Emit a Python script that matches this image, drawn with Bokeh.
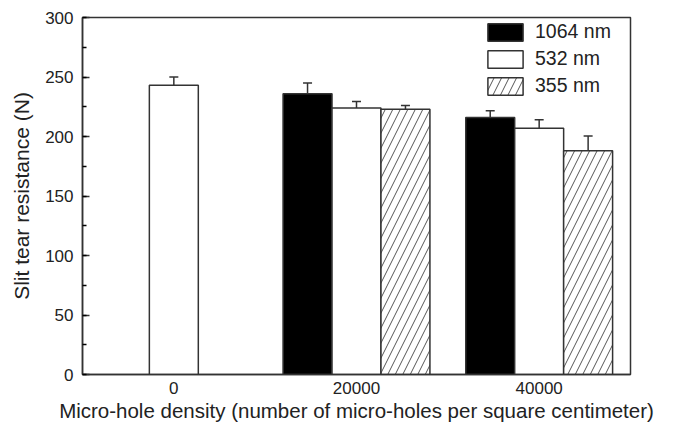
import math
from bokeh.plotting import figure
from bokeh.models import (ColumnDataSource, Whisker, TeeHead, FixedTicker,
                          SingleIntervalTicker, Legend, LegendItem, Range1d)
from bokeh.embed import file_html
from bokeh.resources import INLINE

# ---- data ----
densities = ["0", "20000", "40000"]
series_names = ["1064 nm", "532 nm", "355 nm"]
vals_1064 = [None, 236, 216]
errs_1064 = [None, 9, 5.6]
vals_532 = [243, 224, 207]
errs_532 = [7, 5.5, 7]
vals_355 = [None, 223, 188]
errs_355 = [None, 3, 12.5]
x_title = "Micro-hole density (number of micro-holes per square centimeter)"
y_title = "Slit tear resistance (N)"

FONT = "Liberation Sans"
TXT = "#222222"
EDGE = "#333333"
BW = 0.268

p = figure(width=673, height=426, output_backend="svg", toolbar_location=None,
           x_range=Range1d(-0.5, 2.5), y_range=Range1d(0, 300),
           min_border_left=82, min_border_right=43, min_border_top=17,
           min_border_bottom=52)
p.xgrid.visible = False
p.ygrid.visible = False
p.outline_line_color = EDGE
p.outline_line_width = 1.5
p.background_fill_color = "white"
p.border_fill_color = "white"

def make_source(vals, errs, offset):
    xs, tops, ups = [], [], []
    for i, (v, e) in enumerate(zip(vals, errs)):
        if v is None:
            continue
        xs.append(i + offset)
        tops.append(v)
        ups.append(v + e)
    return ColumnDataSource(dict(x=xs, top=tops, upper=ups))

styles = [
    dict(fill_color="black", hatch_pattern=None),
    dict(fill_color="white", hatch_pattern=None),
    dict(fill_color="white", hatch_pattern="/"),
]
all_vals = [vals_1064, vals_532, vals_355]
all_errs = [errs_1064, errs_532, errs_355]
offsets = [-BW, 0.0, BW]

items = []
for name, vals, errs, off, st in zip(series_names, all_vals, all_errs, offsets, styles):
    src = make_source(vals, errs, off)
    kw = dict(x="x", top="top", bottom=0, width=BW, source=src,
              fill_color=st["fill_color"], line_color=EDGE, line_width=1.5)
    if st["hatch_pattern"]:
        kw.update(hatch_pattern=st["hatch_pattern"], hatch_color="#555555",
                  hatch_scale=15, hatch_weight=1)
    r = p.vbar(**kw)
    w = Whisker(base="x", lower="top", upper="upper", source=src,
                line_color=EDGE, line_width=1.5,
                upper_head=TeeHead(size=9, line_color=EDGE, line_width=1.5),
                lower_head=None)
    p.add_layout(w)
    items.append(LegendItem(label=name, renderers=[r]))

legend = Legend(items=items, location=(401, 277), padding=0, margin=0,
                spacing=4, glyph_width=44, glyph_height=22, label_standoff=8,
                label_text_font=FONT, label_text_font_size="19.5px",
                label_text_color=TXT, border_line_color=None,
                background_fill_alpha=0)
p.add_layout(legend)

# x axis
p.xaxis.ticker = FixedTicker(ticks=[0, 1, 2])
p.xaxis.major_label_overrides = {i: d for i, d in enumerate(densities)}
p.xaxis.minor_tick_line_color = None
p.xaxis.axis_label = x_title

# y axis
p.yaxis.ticker = SingleIntervalTicker(interval=50, num_minor_ticks=2)
p.yaxis.axis_label = y_title

for ax in (p.xaxis[0], p.yaxis[0]):
    ax.axis_line_color = EDGE
    ax.axis_line_width = 1.5
    ax.major_tick_line_color = EDGE
    ax.major_tick_line_width = 1.5
    ax.minor_tick_line_width = 1.5
    ax.major_tick_in = 7
    ax.major_tick_out = 0
    ax.minor_tick_in = 4
    ax.minor_tick_out = 0
    ax.major_label_text_font = FONT
    ax.major_label_text_font_size = "17px"
    ax.major_label_text_color = TXT
    ax.axis_label_text_font = FONT
    ax.axis_label_text_font_style = "normal"
    ax.axis_label_text_color = TXT
p.xaxis.major_tick_line_color = None
p.xaxis.major_tick_in = 0
p.xaxis.major_label_standoff = 7
p.xaxis.axis_label_standoff = 2
p.xaxis.axis_label_text_font_size = "20.5px"
p.yaxis.major_label_standoff = 9
p.yaxis.axis_label_standoff = 9
p.yaxis.axis_label_text_font_size = "21px"

open("out.html", "w").write(file_html(p, INLINE))
